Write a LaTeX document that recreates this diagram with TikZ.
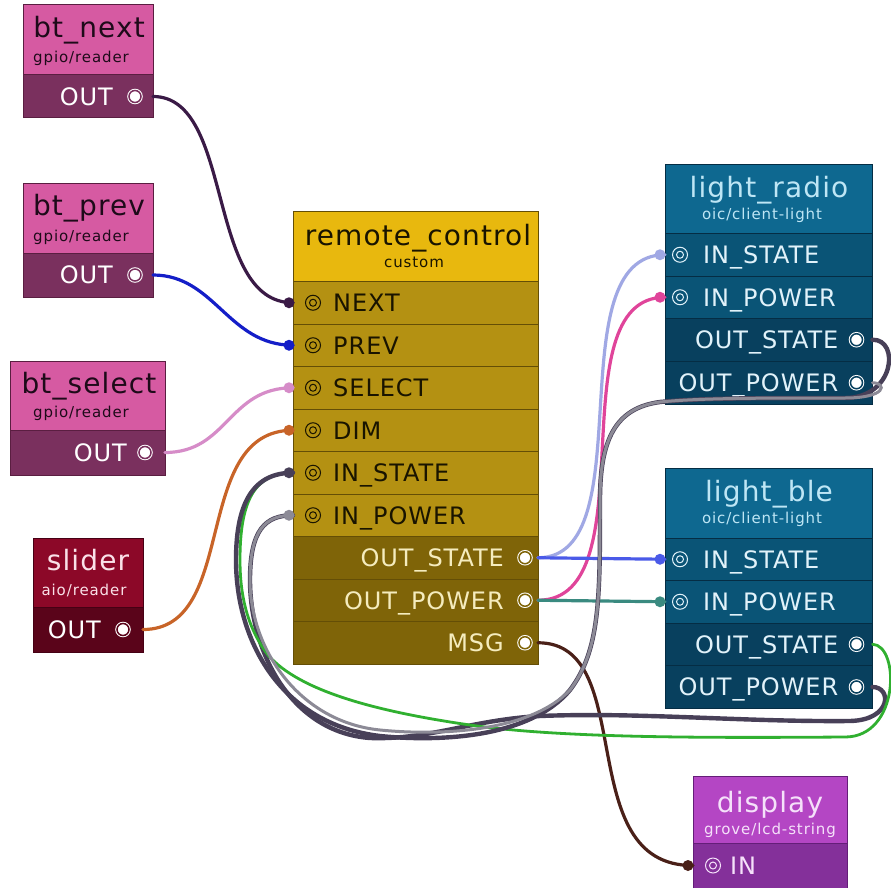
\documentclass[tikz,border=0pt]{standalone}
\usepackage{fontspec}
\setmainfont{DejaVu Sans}
\newfontfamily\ttlfont[LetterSpace=4]{DejaVu Sans}
\newfontfamily\prtfont[LetterSpace=4]{DejaVu Sans}
\newfontfamily\subfont[LetterSpace=6]{DejaVu Sans}
\definecolor{btH}{RGB}{214,90,162}
\definecolor{btP}{RGB}{122,48,94}
\definecolor{btB}{RGB}{90,30,65}
\definecolor{btT}{RGB}{30,10,25}
\definecolor{slH}{RGB}{140,8,40}
\definecolor{slP}{RGB}{90,4,26}
\definecolor{slB}{RGB}{70,0,20}
\definecolor{slT}{RGB}{250,225,232}
\definecolor{rcH}{RGB}{232,184,14}
\definecolor{rcI}{RGB}{180,145,18}
\definecolor{rcO}{RGB}{127,100,8}
\definecolor{rcB}{RGB}{100,78,6}
\definecolor{rcT}{RGB}{25,20,0}
\definecolor{rcOT}{RGB}{245,236,190}
\definecolor{lH}{RGB}{14,104,144}
\definecolor{lI}{RGB}{10,84,118}
\definecolor{lO}{RGB}{8,64,94}
\definecolor{lB}{RGB}{5,45,68}
\definecolor{lT}{RGB}{190,230,245}
\definecolor{lPT}{RGB}{225,242,250}
\definecolor{dH}{RGB}{180,70,196}
\definecolor{dP}{RGB}{132,48,154}
\definecolor{dB}{RGB}{100,30,120}
\definecolor{dT}{RGB}{245,225,250}
\definecolor{wNext}{RGB}{58,26,70}
\definecolor{wPrev}{RGB}{20,30,200}
\definecolor{wSel}{RGB}{214,140,200}
\definecolor{wDim}{RGB}{200,100,40}
\definecolor{wLav}{RGB}{160,168,228}
\definecolor{wPink}{RGB}{224,68,154}
\definecolor{wBlue}{RGB}{74,90,232}
\definecolor{wTeal}{RGB}{58,138,128}
\definecolor{wMsg}{RGB}{74,32,24}
\definecolor{wDark}{RGB}{72,64,88}
\definecolor{wGray}{RGB}{140,138,150}
\definecolor{wGreen}{RGB}{48,176,48}
\tikzset{
  box/.style={anchor=north west, inner sep=0pt, outer sep=0pt, line width=1pt},
  ttl/.style={anchor=base, inner sep=0pt, font=\ttlfont\fontsize{28}{28}\selectfont},
  sub/.style={anchor=base, inner sep=0pt, font=\subfont\fontsize{15}{15}\selectfont},
  prt/.style={inner sep=0pt, text height=17.5pt, text depth=0pt, font=\prtfont\fontsize{24}{24}\selectfont},
  imark/.style={circle, inner sep=0pt, minimum size=15pt, draw=#1, line width=1pt,
    path picture={\draw[#1,line width=1pt] (path picture bounding box.center) circle[radius=3.5pt];}},
  omark/.style={circle, inner sep=0pt, minimum size=12pt, fill=white, draw=white, line width=1pt, double=#1, double distance=1.5pt},
  dot/.style={circle, fill=#1, inner sep=0pt, minimum size=11pt},
  wire/.style={draw=#1, line width=3.2pt, line cap=round},
}
\begin{document}
\begin{tikzpicture}[x=1pt,y=-1pt]
\fill[white] (0,0) rectangle (891,888);
\useasboundingbox (0,0) rectangle (891,888);

% ---------- bt_next ----------
\node[box, fill=btH, draw=btB, minimum width=130pt, minimum height=70pt] (btnH) at (23,5) {};
\node[box, fill=btP, draw=btB, minimum width=130pt, minimum height=43pt] (btnP) at (23,75) {};
\node[ttl, text=btT] (btnT) at (89,38) {bt\_next};
\node[sub, text=btT] (btnS) at (81,63) {gpio/reader};
\node[prt, anchor=east, text=white] (btnL) at ([xshift=-40pt]btnP.east) {OUT};
\node[omark=btP] (btnO) at ([xshift=-18pt]btnP.east) {};

% ---------- bt_prev ----------
\node[box, fill=btH, draw=btB, minimum width=130pt, minimum height=70pt] (btpH) at (23,183) {};
\node[box, fill=btP, draw=btB, minimum width=130pt, minimum height=44pt] (btpP) at (23,253) {};
\node[ttl, text=btT] (btpT) at (89,215) {bt\_prev};
\node[sub, text=btT] (btpS) at (81,241) {gpio/reader};
\node[prt, anchor=east, text=white] (btpL) at ([xshift=-40pt]btpP.east) {OUT};
\node[omark=btP] (btpO) at ([xshift=-18pt]btpP.east) {};

% ---------- bt_select ----------
\node[box, fill=btH, draw=btB, minimum width=154.5pt, minimum height=69pt] (btsH) at (10.5,361) {};
\node[box, fill=btP, draw=btB, minimum width=154.5pt, minimum height=45pt] (btsP) at (10.5,430) {};
\node[ttl, text=btT] (btsT) at (89,393) {bt\_select};
\node[sub, text=btT] (btsS) at (81,417) {gpio/reader};
\node[prt, anchor=east, text=white] (btsL) at ([xshift=-38pt]btsP.east) {OUT};
\node[omark=btP] (btsO) at ([xshift=-20pt]btsP.east) {};

% ---------- slider ----------
\node[box, fill=slH, draw=slB, minimum width=110pt, minimum height=69pt] (slH) at (33,538) {};
\node[box, fill=slP, draw=slB, minimum width=110pt, minimum height=45pt] (slP) at (33,607) {};
\node[ttl, text=slT] (slT) at (88,570) {slider};
\node[sub, text=slT] (slS) at (84,595) {aio/reader};
\node[prt, anchor=east, text=white] (slL) at ([xshift=-42pt]slP.east) {OUT};
\node[omark=slP] (slO) at ([xshift=-20pt]slP.east) {};

% ---------- remote_control ----------
\node[box, fill=rcH, draw=rcB, minimum width=245pt, minimum height=70.5pt] (rcH) at (293,211) {};
\node[box, fill=rcI, draw=rcB, minimum width=245pt, minimum height=42.5pt] (rcNEXT) at (293,281.5) {};
\node[box, fill=rcI, draw=rcB, minimum width=245pt, minimum height=42.5pt] (rcPREV) at (293,324) {};
\node[box, fill=rcI, draw=rcB, minimum width=245pt, minimum height=42.5pt] (rcSEL) at (293,366.5) {};
\node[box, fill=rcI, draw=rcB, minimum width=245pt, minimum height=42.5pt] (rcDIM) at (293,409) {};
\node[box, fill=rcI, draw=rcB, minimum width=245pt, minimum height=42.5pt] (rcINS) at (293,451.5) {};
\node[box, fill=rcI, draw=rcB, minimum width=245pt, minimum height=42.5pt] (rcINP) at (293,494) {};
\node[box, fill=rcO, draw=rcB, minimum width=245pt, minimum height=42.5pt] (rcOS) at (293,536.5) {};
\node[box, fill=rcO, draw=rcB, minimum width=245pt, minimum height=42.5pt] (rcOP) at (293,579) {};
\node[box, fill=rcO, draw=rcB, minimum width=245pt, minimum height=42.5pt] (rcMSG) at (293,621.5) {};
\node[ttl, text=rcT] (rcT) at (418,245) {remote\_control};
\node[sub, text=rcT] (rcS) at (414,267) {custom};
\foreach \r/\t in {rcNEXT/NEXT, rcPREV/PREV, rcSEL/SELECT, rcDIM/DIM, rcINS/IN\_STATE, rcINP/IN\_POWER}{
  \node[imark=rcT] (\r M) at ([xshift=20pt]\r.west) {};
  \node[prt, anchor=west, text=rcT] (\r L) at ([xshift=40pt]\r.west) {\t};
}
\foreach \r/\t in {rcOS/OUT\_STATE, rcOP/OUT\_POWER, rcMSG/MSG}{
  \node[omark=rcO] (\r M) at ([xshift=-13pt]\r.east) {};
  \node[prt, anchor=east, text=rcOT] (\r L) at ([xshift=-34pt]\r.east) {\t};
}

% ---------- light_radio ----------
\node[box, fill=lH, draw=lB, minimum width=207.5pt, minimum height=69.5pt] (lrH) at (665,164) {};
\node[box, fill=lI, draw=lB, minimum width=207.5pt, minimum height=42.5pt] (lrIS) at (665,233.5) {};
\node[box, fill=lI, draw=lB, minimum width=207.5pt, minimum height=42.5pt] (lrIP) at (665,276) {};
\node[box, fill=lO, draw=lB, minimum width=207.5pt, minimum height=42.5pt] (lrOS) at (665,318.5) {};
\node[box, fill=lO, draw=lB, minimum width=207.5pt, minimum height=43.5pt] (lrOP) at (665,361) {};
\node[ttl, text=lT] (lrT) at (769,197) {light\_radio};
\node[sub, text=lT] (lrS) at (762,219) {oic/client-light};

% ---------- light_ble ----------
\node[box, fill=lH, draw=lB, minimum width=207.5pt, minimum height=70pt] (lbH) at (665,468) {};
\node[box, fill=lI, draw=lB, minimum width=207.5pt, minimum height=42.5pt] (lbIS) at (665,538) {};
\node[box, fill=lI, draw=lB, minimum width=207.5pt, minimum height=42.5pt] (lbIP) at (665,580.5) {};
\node[box, fill=lO, draw=lB, minimum width=207.5pt, minimum height=42.5pt] (lbOS) at (665,623) {};
\node[box, fill=lO, draw=lB, minimum width=207.5pt, minimum height=43pt] (lbOP) at (665,665.5) {};
\node[ttl, text=lT] (lbT) at (769,501) {light\_ble};
\node[sub, text=lT] (lbS) at (762,523) {oic/client-light};

\foreach \r/\t in {lrIS/IN\_STATE, lrIP/IN\_POWER, lbIS/IN\_STATE, lbIP/IN\_POWER}{
  \node[imark=lPT] (\r M) at ([xshift=15pt]\r.west) {};
  \node[prt, anchor=west, text=lPT] (\r L) at ([xshift=38pt]\r.west) {\t};
}
\foreach \r/\t in {lrOS/OUT\_STATE, lrOP/OUT\_POWER, lbOS/OUT\_STATE, lbOP/OUT\_POWER}{
  \node[omark=lO] (\r M) at ([xshift=-16pt]\r.east) {};
  \node[prt, anchor=east, text=lPT] (\r L) at ([xshift=-34pt]\r.east) {\t};
}

% ---------- display ----------
\node[box, fill=dH, draw=dB, minimum width=154pt, minimum height=67pt] (dH) at (693,776) {};
\node[box, fill=dP, draw=dB, minimum width=154pt, minimum height=50pt] (dIN) at (693,843) {};
\node[ttl, text=dT] (dT) at (770,812) {display};
\node[sub, text=dT] (dS) at (770,834) {grove/lcd-string};
\coordinate (dINp) at ([yshift=2.5pt]dIN.west);
\node[imark=dT] (dINM) at ([xshift=20pt]dINp) {};
\node[prt, anchor=west, text=dT] (dINL) at ([xshift=37pt]dINp) {IN};

% ---------- wires ----------
\draw[wire=wNext] (btnP.east) .. controls (235,96.5) and (205,302.75) .. (rcNEXT.west);
\draw[wire=wPrev] (btpP.east) .. controls (215,275) and (228,345.25) .. (rcPREV.west);
\draw[wire=wSel] (btsP.east) .. controls (228,452.5) and (228,387.75) .. (rcSEL.west);
\draw[wire=wDim] (slP.east) .. controls (240,629.5) and (190,430.25) .. (rcDIM.west);
\draw[wire=wLav] (rcOS.east) .. controls (645,557.75) and (555,254.75) .. (lrIS.west);
\draw[wire=wPink] (rcOP.east) .. controls (650,600.25) and (555,297.25) .. (lrIP.west);
\draw[wire=wBlue] (rcOS.east) -- (lbIS.west);
\draw[wire=wTeal] (rcOP.east) -- (lbIP.west);
\draw[wire=wMsg] (rcMSG.east) .. controls (640,642.75) and (570,866) .. (dINp);

% light_ble OUT_POWER -> IN_POWER (dark, under grey)
\draw[wire=wDark, line width=4.4pt] (lbOP.east) .. controls (892,687) and (892,720) .. (850,721)
  .. controls (740,722) and (640,712) .. (540,716)
  .. controls (470,720) and (430,740) .. (370,738)
  .. controls (290,732) and (250,650) .. (250,580)
  .. controls (250,530) and (265,515.25) .. (rcINP.west);
% light_ble OUT_STATE -> IN_STATE (green)
\draw[wire=wGreen, line width=2.8pt] (lbOS.east) .. controls (900,645) and (900,737) .. (845,737)
  .. controls (700,738) and (560,738) .. (470,725)
  .. controls (380,712) and (300,692) .. (268,655)
  .. controls (245,625) and (240,590) .. (240,560)
  .. controls (240,500) and (255,472.75) .. (rcINS.west);
% light_radio OUT_STATE -> IN_STATE (dark)
\draw[wire=wDark, line width=4.4pt] (lrOS.east) .. controls (900,339) and (895,398) .. (845,398)
  .. controls (760,398) and (700,398) .. (660,402)
  .. controls (615,408) and (600,440) .. (600,500)
  .. controls (600,600) and (600,650) .. (570,690)
  .. controls (530,738) and (440,742) .. (380,736)
  .. controls (280,724) and (236,640) .. (236,560)
  .. controls (236,500) and (255,472.75) .. (rcINS.west);
% light_radio OUT_POWER -> IN_POWER (grey)
\draw[wire=wGray, line width=3pt] (lrOP.east) .. controls (887,383) and (887,398) .. (845,398)
  .. controls (760,398) and (700,398) .. (660,402)
  .. controls (615,408) and (600,440) .. (600,500)
  .. controls (600,600) and (600,650) .. (570,690)
  .. controls (530,732) and (440,736) .. (380,730)
  .. controls (300,722) and (250,650) .. (250,580)
  .. controls (250,530) and (265,515.25) .. (rcINP.west);

% ---------- input dots ----------
\node[dot=wNext] (dNEXT) at ([xshift=-4pt]rcNEXT.west) {};
\node[dot=wPrev] (dPREV) at ([xshift=-4pt]rcPREV.west) {};
\node[dot=wSel] (dSEL) at ([xshift=-4pt]rcSEL.west) {};
\node[dot=wDim] (dDIM) at ([xshift=-4pt]rcDIM.west) {};
\node[dot=wDark] (dINS) at ([xshift=-4pt]rcINS.west) {};
\node[dot=wGray] (dINP) at ([xshift=-4pt]rcINP.west) {};
\node[dot=wLav] (dlrIS) at ([xshift=-5pt]lrIS.west) {};
\node[dot=wPink] (dlrIP) at ([xshift=-5pt]lrIP.west) {};
\node[dot=wBlue] (dlbIS) at ([xshift=-5pt]lbIS.west) {};
\node[dot=wTeal] (dlbIP) at ([xshift=-5pt]lbIP.west) {};
\node[dot=wMsg] (dDIS) at ([xshift=-5pt]dINp) {};
\end{tikzpicture}
\end{document}
